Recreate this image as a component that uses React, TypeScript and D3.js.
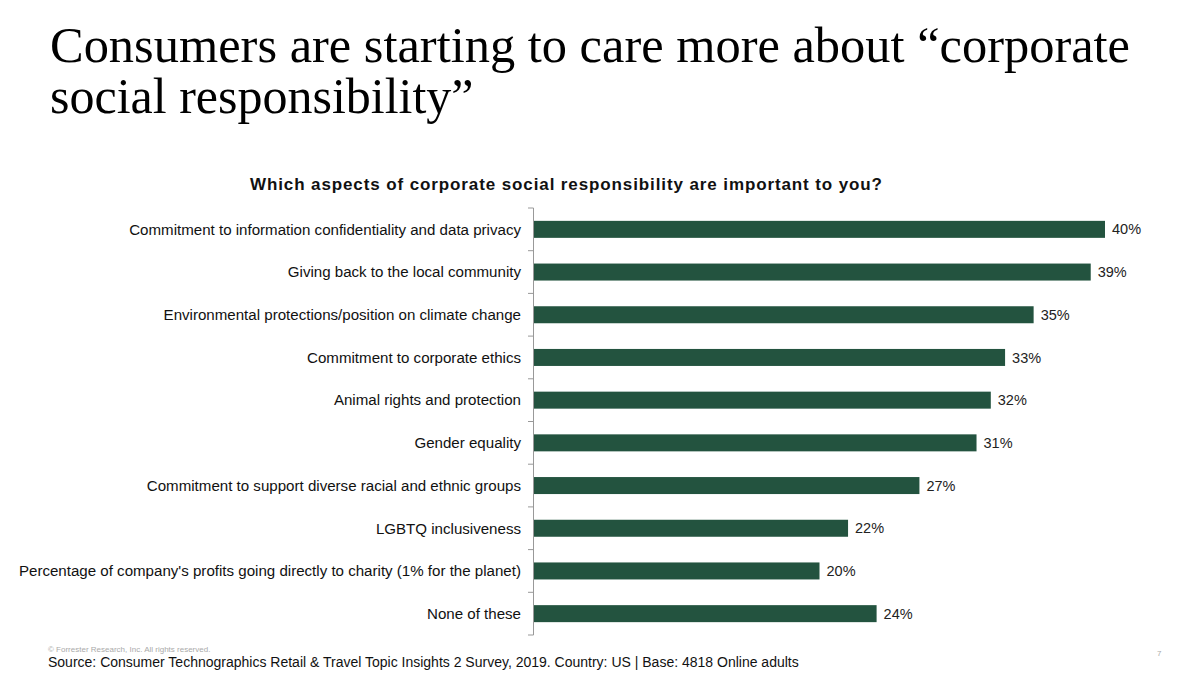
import React from "react";
import * as d3 from "d3";

const categories = [
  "Commitment to information confidentiality and data privacy",
  "Giving back to the local community",
  "Environmental protections/position on climate change",
  "Commitment to corporate ethics",
  "Animal rights and protection",
  "Gender equality",
  "Commitment to support diverse racial and ethnic groups",
  "LGBTQ inclusiveness",
  "Percentage of company's profits going directly to charity (1% for the planet)",
  "None of these",
];
const values = [40, 39, 35, 33, 32, 31, 27, 22, 20, 24];

const titleLines = [
  "Consumers are starting to care more about \u201Ccorporate",
  "social responsibility\u201D",
];
const subtitle = "Which aspects of corporate social responsibility are important to you?";
const copyright = "\u00A9 Forrester Research, Inc. All rights reserved.";
const source = "Source: Consumer Technographics Retail & Travel Topic Insights 2 Survey, 2019. Country: US | Base: 4818 Online adults";
const pageNum = "7";

export default function App() {
  const W = 1200, H = 677;
  const x0 = 534;
  const x = d3.scaleLinear().domain([0, 40]).range([x0, 1105]);
  const y = d3.scaleBand<string>().domain(categories).range([208, 635]).paddingInner(0.6).paddingOuter(0.3);
  const boundaries = d3.range(categories.length + 1).map((i) => 208 + i * (427 / categories.length));
  const sans = "'Liberation Sans', Arial, sans-serif";
  const green = "#23533F";
  return (
    <svg width={W} height={H} style={{ position: "absolute", left: 0, top: 0, display: "block", background: "#fff" }}>
      <rect x={0} y={0} width={W} height={H} fill="#fff" />
      {titleLines.map((t, i) => (
        <text key={i} x={50} y={62 + i * 51} fontFamily="'Liberation Serif', 'Times New Roman', serif" fontSize={50} fill="#000" textLength={i === 0 ? 1080 : undefined} lengthAdjust="spacingAndGlyphs">
          {t}
        </text>
      ))}
      <text x={566} y={190} textAnchor="middle" fontFamily={sans} fontSize={17} fontWeight="bold" fill="#111" textLength={632} lengthAdjust="spacing">
        {subtitle}
      </text>
      {/* axis */}
      <line x1={533.5} x2={533.5} y1={208} y2={635} stroke="#999" strokeWidth={1} />
      {boundaries.map((b, i) => (
        <line key={i} x1={528} x2={533.5} y1={b} y2={b} stroke="#999" strokeWidth={1} />
      ))}
      {categories.map((c, i) => {
        const yc = (y(c) as number) + y.bandwidth() / 2;
        return (
          <g key={c}>
            <rect x={x0} y={yc - 8.5} width={x(values[i]) - x0} height={17} fill={green} />
            <text x={521} y={yc} dy="0.35em" textAnchor="end" fontFamily={sans} fontSize={15.1} fill="#111">
              {c}
            </text>
            <text x={x(values[i]) + 7} y={yc} dy="0.35em" fontFamily={sans} fontSize={14.5} fill="#222">
              {values[i]}%
            </text>
          </g>
        );
      })}
      <text x={48} y={652} fontFamily={sans} fontSize={8} fill="#aaa">{copyright}</text>
      <text x={48} y={667} fontFamily={sans} fontSize={14} fill="#111">{source}</text>
      <text x={1157} y={656} fontFamily={sans} fontSize={8} fill="#aaa">{pageNum}</text>
    </svg>
  );
}
